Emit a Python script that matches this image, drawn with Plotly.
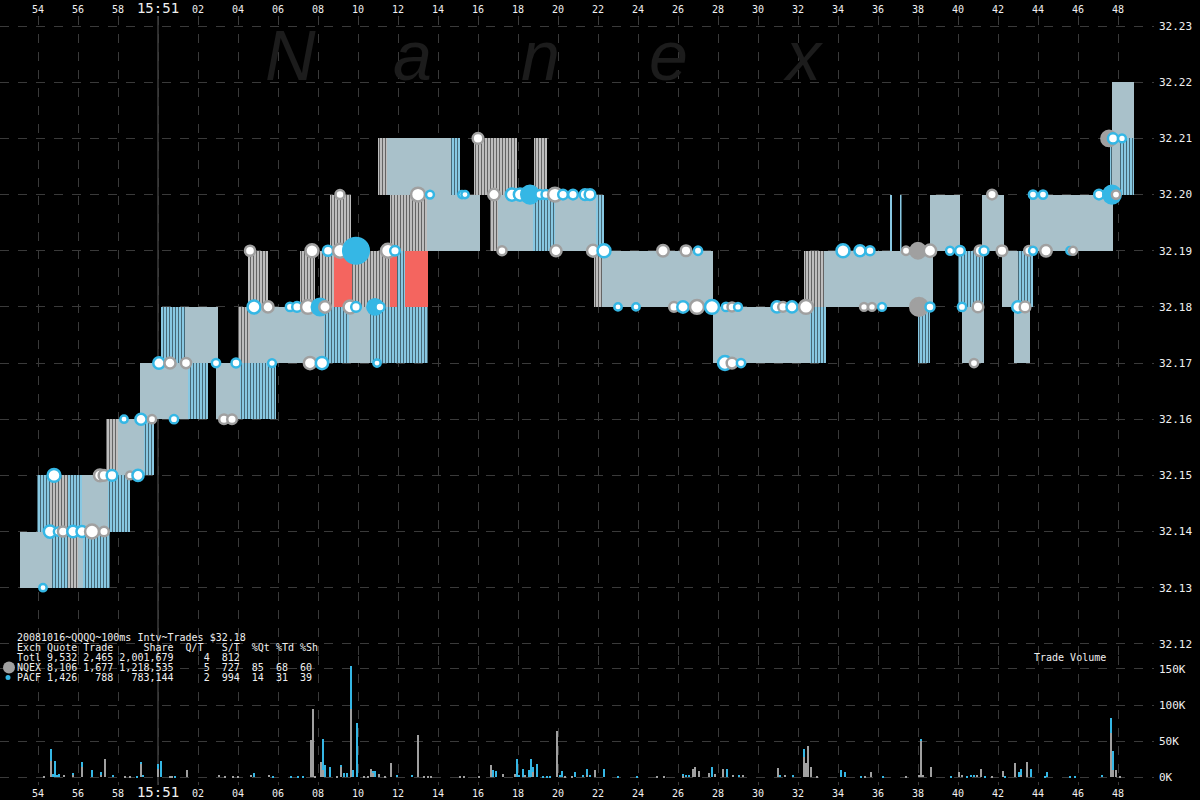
import plotly.graph_objects as go

# ---------------- DATA ----------------
# Time axis: seconds after 15:50:00 (15:51:00 = 60)
tick_secs = list(range(54, 110, 2))
tick_labels = [("15:51" if s == 60 else f"{s % 60:02d}") for s in tick_secs]

price_ticks = [32.12, 32.13, 32.14, 32.15, 32.16, 32.17, 32.18, 32.19, 32.20, 32.21, 32.22, 32.23]
vol_ticks = [0, 50, 100, 150]           # thousands of shares
vol_tick_labels = ["0K", "50K", "100K", "150K"]

# NBBO quote segments: start, end (s), bid, ask, state
seg_t0 = [53.1, 54.7, 55.5, 56.0, 56.25, 53.95, 54.6, 55.5, 56.2, 57.5, 57.4, 58.0, 59.3, 59.1, 61.5, 62.9, 64.1,
          60.15, 61.35, 64.0, 64.6, 68.3, 69.55, 70.6, 64.5, 67.1, 68.1, 68.8, 69.7, 71.6, 71.95, 72.35, 81.8, 82.2,
          68.6, 71.6, 73.45, 76.6, 77.0, 78.75, 79.85, 81.9, 71.0, 71.45, 74.65, 75.8, 78.8,
          87.75, 92.6, 98.0, 100.2, 102.8, 92.3, 93.3, 100.0, 102.2, 103.0,
          96.6, 97.1, 98.6, 101.2, 103.6, 107.6, 107.7, 108.1, 107.7]
seg_t1 = [54.7, 55.5, 56.0, 56.25, 57.6, 54.6, 55.5, 56.2, 57.5, 58.6, 58.0, 59.3, 59.8, 61.5, 62.5, 64.1, 65.9,
          61.35, 63.0, 64.6, 68.3, 69.55, 70.6, 73.5, 65.5, 67.85, 68.8, 69.7, 71.6, 71.95, 72.35, 73.5, 82.2, 87.75,
          69.65, 73.45, 76.1, 77.0, 78.75, 79.85, 81.9, 82.3, 71.45, 74.65, 75.1, 77.95, 79.45,
          92.6, 93.4, 98.6, 101.3, 103.6, 93.3, 98.75, 101.3, 103.0, 103.75,
          96.7, 97.2, 100.1, 102.3, 107.75, 107.7, 108.1, 108.8, 108.8]
seg_bid = [32.13, 32.13, 32.13, 32.13, 32.13, 32.14, 32.14, 32.14, 32.14, 32.14, 32.15, 32.15, 32.15, 32.16, 32.16, 32.16, 32.16,
           32.17, 32.17, 32.17, 32.17, 32.17, 32.17, 32.17, 32.18, 32.18, 32.18, 32.18, 32.18, 32.18, 32.18, 32.18, 32.18, 32.18,
           32.19, 32.19, 32.19, 32.19, 32.19, 32.19, 32.19, 32.19, 32.20, 32.20, 32.20, 32.20, 32.20,
           32.17, 32.17, 32.17, 32.17, 32.17, 32.18, 32.18, 32.18, 32.18, 32.18,
           32.19, 32.19, 32.19, 32.19, 32.19, 32.20, 32.20, 32.20, 32.21]
seg_ask = [round(b + 0.01, 2) for b in seg_bid]
seg_state = ["steady", "flickerP", "flickerN", "steady", "flickerP", "flickerP", "flickerN", "flickerP", "steady", "flickerP",
             "flickerN", "steady", "flickerP", "steady", "flickerP", "steady", "flickerP",
             "flickerP", "steady", "flickerN", "steady", "flickerP", "steady", "flickerP",
             "flickerN", "flickerN", "flickerN", "crossed", "flickerN", "crossed", "flickerP", "crossed", "flickerN", "steady",
             "flickerN", "flickerN", "steady", "flickerN", "steady", "flickerP", "steady", "flickerP",
             "flickerN", "steady", "flickerP", "flickerN", "flickerN",
             "steady", "flickerP", "flickerP", "steady", "steady", "flickerN", "steady", "flickerP", "steady", "flickerP",
             "flickerP", "flickerP", "steady", "steady", "steady", "flickerP", "steady", "flickerP", "steady"]

# Trades: time (s), price, shares, exchange
trade_t = [54.25, 54.6, 55.0, 55.25, 55.75, 56.2, 56.7, 57.3, 54.8, 57.1, 57.3, 57.7, 58.6, 59.0, 58.3, 59.15, 59.7, 60.8,
           60.05, 60.6, 61.4, 62.9, 63.9, 65.7, 63.3, 63.7, 64.8, 65.5, 66.6, 66.95, 67.5, 68.1, 68.35, 69.6, 69.9,
           70.85, 71.1, 67.6, 68.2, 70.95, 64.6, 67.7, 68.5, 69.1, 69.9, 71.5, 71.85, 69.1, 73.0, 73.6, 75.2, 75.35,
           76.0, 76.8, 77.7, 78.1, 78.6, 79.1, 79.4, 79.85, 80.25, 80.75, 81.35, 81.6, 77.2, 79.9, 81.75, 82.3,
           85.25, 86.4, 87.0, 83.0, 83.9, 85.8, 86.25, 86.95, 87.7, 88.35, 88.7, 89.15, 88.4, 88.7, 89.0, 90.95,
           91.25, 91.7, 92.4, 95.3, 95.7, 96.2, 98.05, 98.6, 100.2, 101.0, 103.0, 103.35, 94.25, 95.1, 95.6, 97.4,
           98.0, 98.6, 99.6, 100.1, 101.1, 101.3, 102.2, 103.55, 103.75, 104.4, 105.6, 105.75, 100.8, 101.7,
           103.75, 104.25, 107.05, 107.7, 107.9, 107.55, 107.75, 108.2]
trade_px = [32.13, 32.14, 32.14, 32.14, 32.14, 32.14, 32.14, 32.14, 32.15, 32.15, 32.15, 32.15, 32.15, 32.15, 32.16, 32.16, 32.16, 32.16,
            32.17, 32.17, 32.17, 32.17, 32.17, 32.17, 32.16, 32.16, 32.18, 32.18, 32.18, 32.18, 32.18, 32.18, 32.18, 32.18, 32.18,
            32.18, 32.18, 32.17, 32.17, 32.17, 32.19, 32.19, 32.19, 32.19, 32.19, 32.19, 32.19, 32.20, 32.20, 32.20, 32.20, 32.20,
            32.21, 32.20, 32.20, 32.20, 32.20, 32.20, 32.20, 32.20, 32.20, 32.20, 32.20, 32.20, 32.19, 32.19, 32.19, 32.19,
            32.19, 32.19, 32.19, 32.18, 32.18, 32.18, 32.18, 32.18, 32.18, 32.17, 32.17, 32.17, 32.18, 32.18, 32.18, 32.18,
            32.18, 32.18, 32.18, 32.18, 32.18, 32.18, 32.18, 32.18, 32.18, 32.18, 32.18, 32.18, 32.19, 32.19, 32.19, 32.19,
            32.19, 32.19, 32.19, 32.19, 32.19, 32.19, 32.19, 32.19, 32.19, 32.19, 32.19, 32.19, 32.17, 32.20,
            32.20, 32.20, 32.20, 32.20, 32.20, 32.21, 32.21, 32.21]
trade_sz = [100, 1000, 200, 500, 800, 700, 1500, 400, 1200, 900, 600, 600, 150, 700, 100, 700, 200, 200,
            800, 700, 500, 200, 300, 150, 400, 400, 1200, 700, 200, 400, 1500, 2500, 800, 1200, 400,
            2000, 300, 1000, 1000, 100, 500, 1200, 500, 1500, 8000, 1500, 400, 300, 1500, 150, 100, 100,
            600, 800, 1000, 1000, 3000, 300, 300, 1500, 400, 400, 600, 600, 300, 700, 900, 1200,
            800, 600, 200, 100, 100, 400, 800, 1500, 1500, 1500, 600, 200, 200, 300, 150, 700,
            400, 700, 1500, 150, 150, 150, 3000, 300, 200, 600, 800, 600, 1200, 700, 300, 200,
            2000, 1000, 150, 400, 600, 300, 600, 400, 150, 800, 100, 150, 200, 400,
            200, 200, 400, 3000, 200, 2000, 500, 150]
trade_ex = ["P", "P", "P", "N", "P", "P", "N", "N", "P", "N", "N", "P", "N", "P", "P", "P", "N", "P",
            "P", "N", "N", "P", "P", "P", "N", "N", "P", "N", "P", "P", "N", "P", "N", "N", "P",
            "P", "P", "N", "P", "P", "N", "N", "P", "N", "P", "N", "P", "N", "N", "P", "P", "P",
            "N", "N", "P", "P", "P", "P", "P", "N", "P", "P", "P", "P", "N", "N", "N", "P",
            "N", "N", "P", "P", "P", "N", "P", "N", "P", "P", "N", "P", "P", "N", "P", "P",
            "N", "P", "N", "N", "N", "P", "N", "P", "P", "N", "P", "N", "P", "P", "P", "N",
            "N", "N", "P", "P", "N", "P", "N", "N", "P", "N", "P", "N", "N", "N",
            "P", "P", "P", "P", "N", "N", "P", "P"]

# Trade volume per 100ms interval (thousands of shares): NQEX and PACF
vol_t = [54.3, 54.65, 54.75, 54.85, 54.95, 55.05, 55.3, 55.75, 56.2, 56.7, 57.15, 57.35, 57.75, 58.35, 58.6, 58.95,
         59.15, 59.25, 60.0, 60.15, 60.6, 60.7, 60.85, 61.45, 63.05, 63.35, 63.75, 64.0, 64.65, 64.8, 65.55, 65.75,
         66.65, 67.0, 67.25, 67.65, 67.75, 67.85, 68.15, 68.25, 68.35, 68.6, 68.95, 69.15, 69.3, 69.45, 69.65, 69.75,
         69.95, 70.3, 70.5, 70.65, 70.75, 70.85, 71.05, 71.35, 71.65, 71.95, 72.7, 73.0, 73.3, 73.5, 73.65, 75.1, 75.3,
         76.05, 76.65, 76.75, 76.9, 77.25, 77.85, 77.95, 78.05, 78.25, 78.35, 78.55, 78.65, 78.75, 78.95, 79.25, 79.45,
         79.6, 79.95, 80.1, 80.2, 80.35, 80.7, 80.85, 81.25, 81.45, 81.6, 81.85, 82.3, 83.0, 83.95, 84.95, 85.3, 86.25,
         86.4, 86.55, 86.75, 86.85, 87.05, 87.55, 87.7, 87.85, 88.25, 88.45, 88.75, 89.05, 89.25, 91.0, 91.1, 91.35,
         91.75, 92.3, 92.4, 92.5, 92.65, 92.95, 94.15, 94.35, 95.15, 95.35, 95.65, 96.25, 97.4, 98.05, 98.15, 98.25,
         98.65, 99.65, 100.05, 100.2, 100.45, 100.65, 100.8, 100.95, 101.15, 101.35, 101.7, 102.25, 102.35, 102.85,
         103.05, 103.15, 103.45, 103.65, 104.35, 104.45, 105.6, 105.85, 107.2, 107.65, 107.75, 107.9, 108.1]
vol_nqex = [1, 23, 0, 0, 0, 0, 3, 4, 15, 0, 4, 26, 0, 1, 1, 0,
            20, 0, 11, 0, 2, 1, 0, 10, 3, 1, 1, 1, 3, 0, 3, 0,
            0, 0, 0, 52, 95, 2, 22, 10, 0, 0, 1, 14, 0, 0, 95, 0,
            0, 1, 1, 11, 6, 0, 5, 1, 20, 0, 0, 59, 1, 1, 1, 1, 1,
            1, 17, 0, 0, 5, 5, 0, 0, 0, 3, 0, 0, 8, 0, 0, 0,
            0, 65, 0, 0, 2, 2, 0, 0, 4, 0, 10, 0, 0, 0, 1, 2, 2,
            0, 0, 11, 14, 9, 6, 0, 5, 11, 0, 3, 0, 3, 13, 0, 4,
            0, 28, 20, 44, 14, 1, 0, 0, 0, 1, 7, 0, 2, 4, 50, 3,
            14, 0, 8, 3, 0, 0, 0, 4, 11, 0, 1, 9, 0, 20,
            0, 3, 22, 0, 0, 0, 0, 0, 0, 61, 10, 10, 1]
vol_pacf = [0, 16, 5, 23, 3, 5, 0, 1, 7, 10, 4, 0, 3, 0, 0, 2,
            2, 4, 7, 23, 0, 0, 2, 0, 0, 0, 0, 0, 0, 6, 0, 1,
            2, 1, 2, 0, 0, 0, 0, 44, 17, 14, 0, 3, 6, 6, 60, 10,
            76, 0, 0, 0, 3, 9, 0, 0, 0, 3, 3, 0, 0, 0, 0, 0, 0,
            0, 0, 10, 9, 0, 0, 26, 3, 12, 0, 10, 26, 7, 18, 1, 1,
            1, 0, 3, 9, 0, 0, 7, 4, 7, 4, 0, 11, 1, 1, 0, 0, 2,
            4, 3, 0, 0, 0, 0, 15, 0, 0, 12, 0, 3, 0, 0, 4, 0,
            4, 12, 0, 0, 0, 0, 10, 7, 2, 0, 0, 1, 0, 0, 3, 0,
            0, 1, 0, 0, 1, 3, 3, 0, 0, 1, 0, 0, 1, 0,
            8, 9, 0, 11, 2, 8, 1, 1, 3, 22, 26, 0, 0]

summary_lines = [
    "20081016~QQQQ~100ms Intv~Trades $32.18",
    "Exch Quote Trade     Share  Q/T   S/T  %Qt %Td %Sh",
    "Totl 9,532 2,465 2,001,679     4  812",
    "NQEX 8,106 1,677 1,218,535     5  727  85  68  60",
    "PACF 1,426   788   783,144     2  994  14  31  39",
]

# ---------------- STYLE ----------------
BG = "#000000"
GRID = "#3a3a3a"
GRAY = "#a0a0a0"
BLUE = "#35b7e5"
WHITE = "#f0f0f0"
MONO = "DejaVu Sans Mono"

X_RANGE = [52.1, 109.8]
PX_W = 1154.0          # plot-area width in px
PX_TOP, PX_BOT = 12.0, 785.0
PX_H = PX_BOT - PX_TOP
SPLIT = 0.1682


def px_x(p):
    return p / PX_W


def px_y(p):
    return (PX_BOT - p) / PX_H


fig = go.Figure()

band_styles = {
    "flickerP": dict(color="#8fd3ee", line=dict(width=0),
                     pattern=dict(shape="|", fgcolor=BG, bgcolor="#8fd3ee", size=3, solidity=0.4)),
    "flickerN": dict(color="#c8c8c8", line=dict(width=0),
                     pattern=dict(shape="|", fgcolor=BG, bgcolor="#c8c8c8", size=3, solidity=0.4)),
    "steady": dict(color="#a9c1ca", line=dict(width=0)),
    "crossed": dict(color="#f4655f", line=dict(width=0)),
}
for state, mk in band_styles.items():
    idx = [i for i, s in enumerate(seg_state) if s == state]
    fig.add_trace(go.Bar(
        x=[(seg_t0[i] + seg_t1[i]) / 2 for i in idx],
        y=[round(seg_ask[i] - seg_bid[i], 4) for i in idx],
        base=[seg_bid[i] for i in idx],
        width=[seg_t1[i] - seg_t0[i] for i in idx],
        marker=mk, xaxis="x", yaxis="y", hoverinfo="skip", showlegend=False))

# trades
ex_color = {"N": GRAY, "P": BLUE}
sizes = [5 + 2.3 * (s / 100) ** 0.5 for s in trade_sz]
fills = [ex_color[e] if s >= 2000 else "#ffffff" for e, s in zip(trade_ex, trade_sz)]
lines = [ex_color[e] for e in trade_ex]
fig.add_trace(go.Scatter(
    x=trade_t, y=trade_px, mode="markers", xaxis="x", yaxis="y", hoverinfo="skip",
    marker=dict(size=sizes, color=fills, line=dict(color=lines, width=2.5), opacity=1),
    showlegend=False))

# volume (stacked: NQEX bottom, PACF on top)
fig.add_trace(go.Bar(x=vol_t, y=vol_nqex, width=0.13, marker=dict(color=GRAY, line=dict(width=0)),
                     xaxis="x", yaxis="y2", hoverinfo="skip", showlegend=False))
fig.add_trace(go.Bar(x=vol_t, y=vol_pacf, base=vol_nqex, width=0.13, marker=dict(color=BLUE, line=dict(width=0)),
                     xaxis="x", yaxis="y2", hoverinfo="skip", showlegend=False))

# invisible anchor trace for the top time axis
fig.add_trace(go.Scatter(x=[X_RANGE[0]], y=[price_ticks[0]], mode="markers", marker=dict(opacity=0),
                         xaxis="x2", yaxis="y", hoverinfo="skip", showlegend=False))

tick_text_fmt = [f"<span style='font-size:14px'>{t}</span>" if ":" in t else t for t in tick_labels]
axis_font = dict(color=WHITE, size=10, family=MONO)

fig.update_layout(
    width=1200, height=800,
    paper_bgcolor=BG, plot_bgcolor=BG,
    margin=dict(l=0, r=1200 - PX_W, t=PX_TOP, b=800 - PX_BOT),
    barmode="overlay", bargap=0, showlegend=False,
    xaxis=dict(range=X_RANGE, anchor="y2", tickvals=tick_secs, ticktext=tick_text_fmt, tickfont=axis_font,
               showgrid=True, gridcolor=GRID, griddash="dash", gridwidth=1, zeroline=False, showline=False,
               ticks="", ticklabelstandoff=1),
    xaxis2=dict(range=X_RANGE, overlaying="x", side="top", anchor="y", tickvals=tick_secs, ticktext=tick_text_fmt,
                tickfont=axis_font, showgrid=False, zeroline=False, showline=False, ticks="", ticklabelstandoff=0),
    yaxis=dict(domain=[SPLIT, 1], range=[32.1179, 32.2318], side="right", tickvals=price_ticks,
               ticktext=[f"{p:.2f}" for p in price_ticks], tickfont=dict(color=WHITE, size=11, family=MONO),
               showgrid=True, gridcolor=GRID, griddash="dash", gridwidth=1, zeroline=False, showline=False,
               ticks="", ticklabelstandoff=4),
    yaxis2=dict(domain=[0, SPLIT], range=[-11, 168.5], side="right", tickvals=vol_ticks, ticktext=vol_tick_labels,
                tickfont=dict(color=WHITE, size=11, family=MONO), showgrid=True, gridcolor=GRID, griddash="dash",
                gridwidth=1, zeroline=False, showline=False, ticks="", ticklabelstandoff=4),
)

# 15:51:00 marker line
fig.add_shape(type="line", xref="x", yref="paper", x0=60, x1=60, y0=0, y1=1,
              line=dict(color="#5a5a5a", width=1), layer="below")

# watermark
for letter, cx in zip("Nanex", [290, 412, 540, 668, 803]):
    fig.add_annotation(text=letter, xref="paper", yref="paper", x=px_x(cx), y=px_y(52),
                       xanchor="center", yanchor="middle", showarrow=False,
                       font=dict(size=70, color="#1c1c1c", family="Liberation Sans", style="italic"))

# summary block
for i, line in enumerate(summary_lines):
    fig.add_annotation(text=line.replace(" ", "\u00a0"), xref="paper", yref="paper",
                       x=px_x(15), y=px_y(637 + 10 * i), xanchor="left", yanchor="middle",
                       showarrow=False, font=dict(size=10, color=WHITE, family=MONO))
fig.add_shape(type="circle", xref="paper", yref="paper", xsizemode="pixel", ysizemode="pixel",
              xanchor=px_x(9), yanchor=px_y(667), x0=-6, x1=6, y0=-6, y1=6,
              fillcolor=GRAY, line=dict(width=0))
fig.add_shape(type="circle", xref="paper", yref="paper", xsizemode="pixel", ysizemode="pixel",
              xanchor=px_x(8), yanchor=px_y(677), x0=-2.5, x1=2.5, y0=-2.5, y1=2.5,
              fillcolor=BLUE, line=dict(width=0))

fig.add_annotation(text="Trade\u00a0Volume", xref="paper", yref="paper", x=px_x(1032), y=px_y(657),
                   xanchor="left", yanchor="middle", showarrow=False,
                   font=dict(size=10, color=WHITE, family=MONO))

fig.write_html("out.html", config={"displayModeBar": False},
               post_script="document.body.style.margin='0';document.body.style.background='#000';")
